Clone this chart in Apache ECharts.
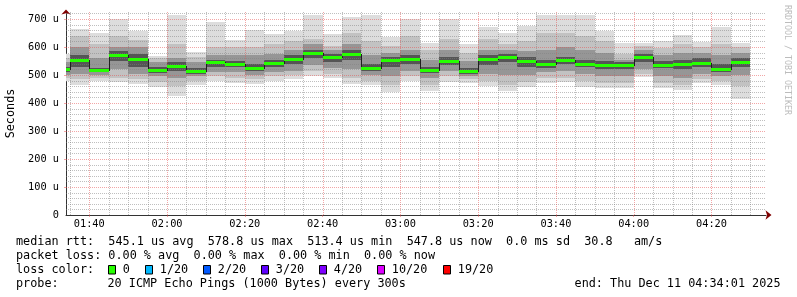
<!DOCTYPE html>
<html><head><meta charset="utf-8">
<script src="https://cdn.jsdelivr.net/npm/echarts@6/dist/echarts.min.js"></script>
<style>html,body{margin:0;padding:0;background:#fff}#c{width:797px;height:297px}</style>
</head><body><div id="c"></div>
<script>
// ---------- data ----------
const graphStart = '01:34:01';
const graphEnd = '04:34:01';
const binEnds = ['01:35','01:40','01:45','01:50','01:55','02:00','02:05','02:10','02:15','02:20','02:25','02:30',
  '02:35','02:40','02:45','02:50','02:55','03:00','03:05','03:10','03:15','03:20','03:25','03:30',
  '03:35','03:40','03:45','03:50','03:55','04:00','04:05','04:10','04:15','04:20','04:25','04:30'];
// values in microseconds
const medianRtt = [520,554,518,573,558,519,532,513,545,539,526,544,558,577,565,576,526,554,
  557,518,551,514,556,565,551,538,552,540,536,536,563,537,540,544,523,547];
const pingMin = [478,464,479,476,468,458,426,464,480,470,468,480,485,498,489,468,464,438,
  477,444,476,470,461,444,456,470,474,456,452,452,492,452,446,470,464,414];
const pingP10 = [490,485,490,490,485,475,460,480,495,490,485,495,500,515,505,490,480,465,
  495,465,495,485,480,465,475,490,490,480,470,470,505,470,465,485,480,460];
const pingP25 = [500,505,500,520,505,495,490,495,510,510,500,510,515,535,525,520,500,495,
  515,490,515,495,505,500,500,510,515,505,495,495,520,495,490,505,495,500];
const pingP40 = [512,530,512,550,530,508,515,505,530,530,515,530,540,560,548,555,515,530,
  540,508,535,505,535,545,530,525,540,530,520,520,545,525,520,530,510,530];
const pingP60 = [530,570,525,585,575,530,545,525,555,550,540,555,570,590,575,590,540,565,
  570,530,565,525,570,575,565,555,565,555,550,545,575,550,555,560,540,560];
const pingP75 = [545,600,560,600,600,545,560,545,570,570,570,575,590,610,590,610,570,580,
  590,555,590,550,590,590,585,590,600,590,580,555,590,570,580,580,570,580];
const pingP90 = [560,640,610,640,625,560,610,565,600,600,600,610,620,630,605,650,620,605,
  640,590,630,580,630,610,620,650,650,640,620,575,605,595,610,600,610,600];
const pingMax = [575,664,650,700,657,568,714,581,690,625,661,646,657,714,646,706,714,634,
  700,615,699,611,673,649,676,714,714,714,657,615,613,621,643,617,671,615];
const timeTicks = ['01:40','02:00','02:20','02:40','03:00','03:20','03:40','04:00','04:20'];
const yMajor = [100,200,300,400,500,600,700];
const medianStats = ['545.1 us avg','578.8 us max','513.4 us min','547.8 us now','0.0 ms sd','30.8   am/s'];
const lossStats = ['0.00 % avg','0.00 % max','0.00 % min','0.00 % now'];
const lossLabels = ['0','1/20','2/20','3/20','4/20','10/20','19/20'];
const lossColors = ['#26ff00','#00b8ff','#0059ff','#5e00ff','#7e00ff','#dd00ff','#ff0000'];
const probeText = '20 ICMP Echo Pings (1000 Bytes) every 300s';
const endText = 'end: Thu Dec 11 04:34:01 2025';

// ---------- build ----------
const toMin = s => { const p = s.split(':').map(Number); return p[0]*60 + p[1] + (p[2]||0)/60; };
const tStart = toMin(graphStart), tEnd = toMin(graphEnd);
const ends = binEnds.map(toMin);
const starts = ends.map((e,i) => i === 0 ? tStart : ends[i-1]);
const smokeData = starts.map((s,i) => [s, ends[i], pingMin[i], pingP10[i], pingP25[i], pingP40[i],
  pingP60[i], pingP75[i], pingP90[i], pingMax[i]]);
const medData = starts.map((s,i) => [s, ends[i], medianRtt[i], i === 0 ? medianRtt[0] : medianRtt[i-1]]);
const tickMins = timeTicks.map(toMin);

const gridData = [];
for (let v = 20; v < 725; v += 20) gridData.push([tStart, v, v % 100 === 0 ? 1 : 0]);
for (let t = Math.ceil(tStart/5)*5; t < tEnd; t += 5) gridData.push([t, 0, t % 20 === 0 ? 3 : 2]);

const MINOR = 'rgba(128,128,128,0.5)', MAJOR = 'rgba(230,77,77,0.5)';
const MONO = '"DejaVu Sans Mono", monospace';
const LF = '11.8px ' + MONO;
const bandColors = ['#dddddd','#c2c2c2','#969696','#555555'];

const fmtTime = v => { const h = Math.floor(v/60), m = Math.round(v - h*60);
  return String(h).padStart(2,'0') + ':' + String(m).padStart(2,'0'); };

const chart = echarts.init(document.getElementById('c'), null, {renderer: 'canvas'});

const graphics = [];
const lx = 16, vx = 107.5;
const rows = [241.7, 256, 269.6, 283.5];
graphics.push({type:'text', x: lx, y: rows[0], style:{text: 'median rtt:  ' + medianStats.join('  '), font: LF, fill:'#000', verticalAlign:'middle'}});
graphics.push({type:'text', x: lx, y: rows[1], style:{text: 'packet loss: ' + lossStats.join('  '), font: LF, fill:'#000', verticalAlign:'middle'}});
graphics.push({type:'text', x: lx, y: rows[2], style:{text: 'loss color:', font: LF, fill:'#000', verticalAlign:'middle'}});
graphics.push({type:'text', x: lx, y: rows[3], style:{text: 'probe:', font: LF, fill:'#000', verticalAlign:'middle'}});
graphics.push({type:'text', x: vx, y: rows[3], style:{text: probeText, font: LF, fill:'#000', verticalAlign:'middle'}});
graphics.push({type:'text', x: 780.5, y: rows[3], style:{text: endText, font: LF, fill:'#000', align:'right', verticalAlign:'middle'}});
const boxX = [108.5,145.5,203.5,261.5,319.5,377.5,443.5];
lossLabels.forEach((lab,i) => {
  graphics.push({type:'rect', shape:{x: boxX[i], y: 265.5, width: 7, height: 8.5}, style:{fill: lossColors[i], stroke:'#000', lineWidth:1}});
  graphics.push({type:'text', x: boxX[i] + 14.3, y: rows[2], style:{text: lab, font: LF, fill:'#000', verticalAlign:'middle'}});
});
graphics.push({type:'text', x: 787, y: 5, rotation: -Math.PI/2, style:{text:'RRDTOOL / TOBI OETIKER', font:'8.3px ' + MONO, fill:'#bcbcbc', align:'left', verticalAlign:'middle'}});

const option = {
  animation: false,
  backgroundColor: '#ffffff',
  grid: {left: 66, right: 31, top: 12, bottom: 82, containLabel: false, outerBoundsMode: 'none'},
  xAxis: [{
    type: 'value', min: tStart, max: tEnd,
    axisLine: {show: true, lineStyle: {color: '#333', width: 1}},
    axisTick: {show: true, customValues: tickMins, length: 2, lineStyle: {color: MAJOR}},
    axisLabel: {customValues: tickMins, formatter: fmtTime, margin: 4, color: '#000', fontFamily: MONO, fontSize: 10.3},
    splitLine: {show: false}
  }, {
    type: 'value', min: tStart, max: tEnd, position: 'bottom',
    axisLine: {show: true, symbol: ['none','arrow'], symbolSize: [7,6], symbolOffset: [0,5.5], lineStyle: {color: '#800000', width: 0}},
    axisTick: {show: false}, axisLabel: {show: false}, splitLine: {show: false}
  }],
  yAxis: [{
    type: 'value', min: 0, max: 725, interval: 100,
    name: 'Seconds', nameLocation: 'middle', nameGap: 48,
    nameTextStyle: {fontFamily: MONO, fontSize: 11.8, color: '#000'},
    axisLine: {show: true, lineStyle: {color: '#333', width: 1}},
    axisTick: {show: true, customValues: yMajor, length: 2, lineStyle: {color: MAJOR}},
    axisLabel: {margin: 7, color: '#000', fontFamily: MONO, fontSize: 10.3,
      formatter: v => v === 0 ? '0' : (v % 100 === 0 ? v + ' u' : '')},
    splitLine: {show: false}
  }, {
    type: 'value', min: 0, max: 725, position: 'left',
    axisLine: {show: true, symbol: ['none','arrow'], symbolSize: [7,5], symbolOffset: [0,2.5], lineStyle: {color: '#800000', width: 0}},
    axisTick: {show: false}, axisLabel: {show: false}, splitLine: {show: false}
  }],
  graphic: graphics,
  series: [{
    type: 'custom', name: 'smoke', z: 2, data: smokeData,
    encode: {x: [0,1], y: [2,9]},
    renderItem: (params, api) => {
      const s = api.value(0), e = api.value(1);
      const v = [2,3,4,5,6,7,8,9].map(d => api.value(d));
      const pairs = [[v[0], v[7]], [v[1], v[6]], [v[2], v[5]], [v[3], v[4]]];
      return {type: 'group', children: pairs.map((p, k) => {
        const a = api.coord([s, p[1]]), b = api.coord([e, p[0]]);
        const x0 = Math.round(a[0]), x1 = Math.round(b[0]), y0 = Math.round(a[1]), y1 = Math.round(b[1]);
        return {type: 'rect', shape: {x: x0, y: y0, width: x1 - x0, height: y1 - y0}, style: {fill: bandColors[k]}};
      })};
    }
  }, {
    type: 'custom', name: 'grid', z: 3, data: gridData, silent: true,
    encode: {x: 0, y: 1},
    renderItem: (params, api) => {
      const cs = params.coordSys;
      const kind = api.value(2);
      const c = api.coord([api.value(0), api.value(1)]);
      let shape;
      if (kind < 2) { const y = Math.round(c[1]) + 0.5; shape = {x1: cs.x, y1: y, x2: cs.x + cs.width, y2: y}; }
      else { const x = Math.round(c[0]) + 0.5; shape = {x1: x, y1: cs.y, x2: x, y2: cs.y + cs.height}; }
      return {type: 'line', shape, style: {stroke: (kind === 1 || kind === 3) ? MAJOR : MINOR, lineWidth: 1, lineDash: [1,1]}};
    }
  }, {
    type: 'custom', name: 'median', z: 4, data: medData,
    encode: {x: [0,1], y: 2},
    renderItem: (params, api) => {
      const s = api.value(0), e = api.value(1), m = api.value(2), pm = api.value(3);
      const a = api.coord([s, m]), b = api.coord([e, m]), p = api.coord([s, pm]);
      const x0 = Math.round(a[0]), x1 = Math.round(b[0]), y = Math.round(a[1]), py = Math.round(p[1]);
      return {type: 'group', children: [
        {type: 'line', shape: {x1: x0 + 0.5, y1: Math.min(y, py), x2: x0 + 0.5, y2: Math.max(y, py) + 1}, style: {stroke: '#202020', lineWidth: 1}},
        {type: 'rect', shape: {x: x0, y: y - 1, width: x1 - x0, height: 3}, style: {fill: '#26ff00'}}
      ]};
    }
  }]
};
chart.setOption(option);
</script></body></html>
